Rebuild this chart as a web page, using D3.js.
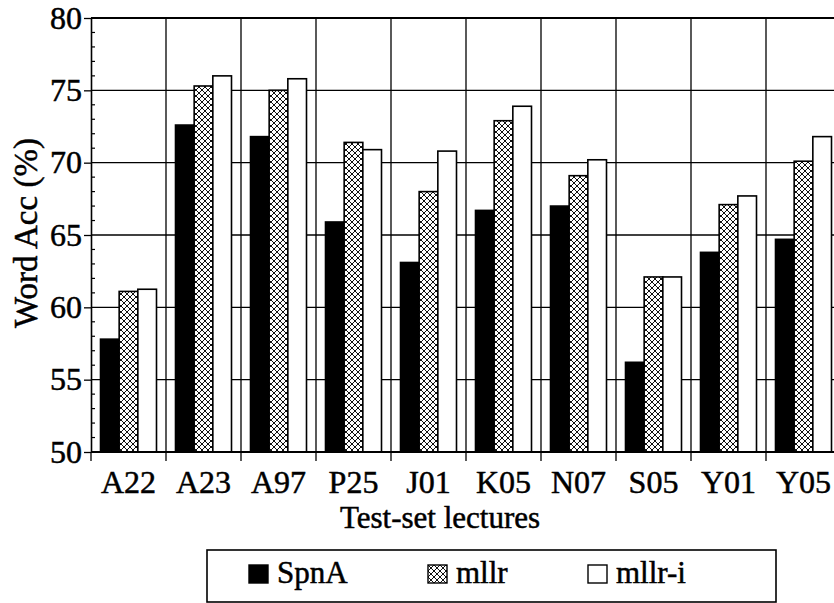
<!DOCTYPE html>
<html>
<head>
<meta charset="utf-8">
<script src="https://cdn.jsdelivr.net/npm/d3@7"></script>
<style>
  body { margin: 0; background: #fff; }
  svg text { font-family: "Liberation Serif", "DejaVu Serif", serif; fill: #000; stroke: #000; stroke-width: 0.5px; }
</style>
</head>
<body>
<div id="chart"></div>
<script>
// values
const lectures = ["A22", "A23", "A97", "P25", "J01", "K05", "N07", "S05", "Y01", "Y05"];
const spnA  = [57.8, 72.6, 71.8, 65.9, 63.1, 66.7, 67.0, 56.2, 63.8, 64.7];
const mllr  = [61.1, 75.3, 75.0, 71.4, 68.0, 72.9, 69.1, 62.1, 67.1, 70.1];
const mllrI = [61.25, 76.0, 75.8, 70.9, 70.8, 73.9, 70.2, 62.1, 67.7, 71.8];
const seriesNames = ["SpnA", "mllr", "mllr-i"];
const yTicks = [50, 55, 60, 65, 70, 75, 80];

const W = 834, H = 603;
const plotLeft = 91, plotTop = 18, plotBottom = 452;
const serif = "Liberation Serif";

const svg = d3.select("#chart").append("svg")
    .attr("width", W)
    .attr("height", H)
    .style("display", "block");

// crosshatch pattern for mllr
const defs = svg.append("defs");
const pat = defs.append("pattern")
    .attr("id", "xhatch")
    .attr("patternUnits", "userSpaceOnUse")
    .attr("width", 6).attr("height", 6);
pat.append("rect").attr("width", 6).attr("height", 6).attr("fill", "#fff");
pat.append("path").attr("d", "M0,0 L6,6 M6,0 L0,6")
    .attr("stroke", "#111").attr("stroke-width", 1);

const x = d3.scaleBand()
    .domain(lectures)
    .range([plotLeft, plotLeft + 75 * lectures.length])
    .padding(0);

const xSub = d3.scaleBand()
    .domain(seriesNames)
    .range([9.5, 65.5])
    .padding(0);

const y = d3.scaleLinear()
    .domain([50, 80])
    .range([plotBottom, plotTop]);

const fills = { "SpnA": "#000", "mllr": "url(#xhatch)", "mllr-i": "#fff" };

// grid lines
svg.append("g").selectAll("line")
    .data(yTicks.slice(1))
    .enter().append("line")
    .attr("x1", plotLeft).attr("x2", W)
    .attr("y1", d => y(d)).attr("y2", d => y(d))
    .attr("stroke", "#000").attr("stroke-width", d => d === 80 ? 1.8 : 1.3);

svg.append("g").selectAll("line")
    .data(lectures.slice(1))
    .enter().append("line")
    .attr("x1", d => x(d)).attr("x2", d => x(d))
    .attr("y1", plotTop).attr("y2", plotBottom)
    .attr("stroke", "#000").attr("stroke-width", 1.3);

// bars
const rows = lectures.map((l, i) => ({ lecture: l, "SpnA": spnA[i], "mllr": mllr[i], "mllr-i": mllrI[i] }));

svg.append("g").selectAll("g")
    .data(rows)
    .enter().append("g")
    .attr("transform", d => "translate(" + x(d.lecture) + ",0)")
    .selectAll("rect")
    .data(d => seriesNames.map(k => ({ key: k, value: d[k] })))
    .enter().append("rect")
    .attr("x", d => xSub(d.key))
    .attr("y", d => y(d.value))
    .attr("width", xSub.bandwidth())
    .attr("height", d => y(50) - y(d.value))
    .attr("fill", d => fills[d.key])
    .attr("stroke", "#000")
    .attr("stroke-width", 1.6);

// y axis
const yAxis = svg.append("g")
    .attr("transform", "translate(" + plotLeft + ",0)")
    .call(d3.axisLeft(y).tickValues(yTicks).tickSize(7).tickSizeOuter(0).tickFormat(d3.format("d")));
yAxis.attr("font-family", serif);
yAxis.select(".domain").attr("stroke-width", 1.6);
yAxis.selectAll(".tick line").attr("stroke-width", 1.3);
yAxis.selectAll("text")
    .attr("font-size", 32)
    .attr("x", -9)
    .attr("font-family", serif)
    .attr("fill", "#000");

// minor ticks inside
svg.append("g").selectAll("line")
    .data(d3.range(50, 81).filter(v => v % 5 !== 0))
    .enter().append("line")
    .attr("x1", plotLeft).attr("x2", plotLeft + 4)
    .attr("y1", d => y(d)).attr("y2", d => y(d))
    .attr("stroke", "#000").attr("stroke-width", 1.2);

// x axis
const xAxis = svg.append("g")
    .attr("transform", "translate(0," + plotBottom + ")");
xAxis.append("line")
    .attr("x1", plotLeft).attr("x2", W)
    .attr("stroke", "#000").attr("stroke-width", 1.8);
xAxis.selectAll(".xt")
    .data(lectures)
    .enter().append("line")
    .attr("class", "xt")
    .attr("x1", d => x(d)).attr("x2", d => x(d))
    .attr("y1", 0).attr("y2", 9)
    .attr("stroke", "#000").attr("stroke-width", 1.3);
xAxis.selectAll("text")
    .data(lectures)
    .enter().append("text")
    .attr("x", d => x(d) + x.bandwidth() / 2)
    .attr("y", 41)
    .attr("text-anchor", "middle")
    .attr("font-family", serif)
    .attr("font-size", 32)
    .text(d => d);

// axis titles
svg.append("text")
    .attr("transform", "translate(37,233) rotate(-90)")
    .attr("text-anchor", "middle")
    .attr("font-family", serif)
    .attr("font-size", 33)
    .text("Word Acc (%)");

svg.append("text")
    .attr("x", 440).attr("y", 528)
    .attr("text-anchor", "middle")
    .attr("font-family", serif)
    .attr("font-size", 31)
    .text("Test-set lectures");

// legend
const legend = svg.append("g");
legend.append("rect")
    .attr("x", 207).attr("y", 550)
    .attr("width", 569).attr("height", 52)
    .attr("fill", "#fff").attr("stroke", "#000").attr("stroke-width", 1.6);

const legX = [249, 428, 588];
const item = legend.selectAll(".item")
    .data(seriesNames)
    .enter().append("g")
    .attr("class", "item")
    .attr("transform", (d, i) => "translate(" + legX[i] + ",565)");
item.append("rect")
    .attr("width", 19).attr("height", 18)
    .attr("fill", d => fills[d])
    .attr("stroke", "#000").attr("stroke-width", 1.4);
item.append("text")
    .attr("x", 28).attr("y", 18)
    .attr("font-family", serif)
    .attr("font-size", 31)
    .text(d => d);
</script>
</body>
</html>
